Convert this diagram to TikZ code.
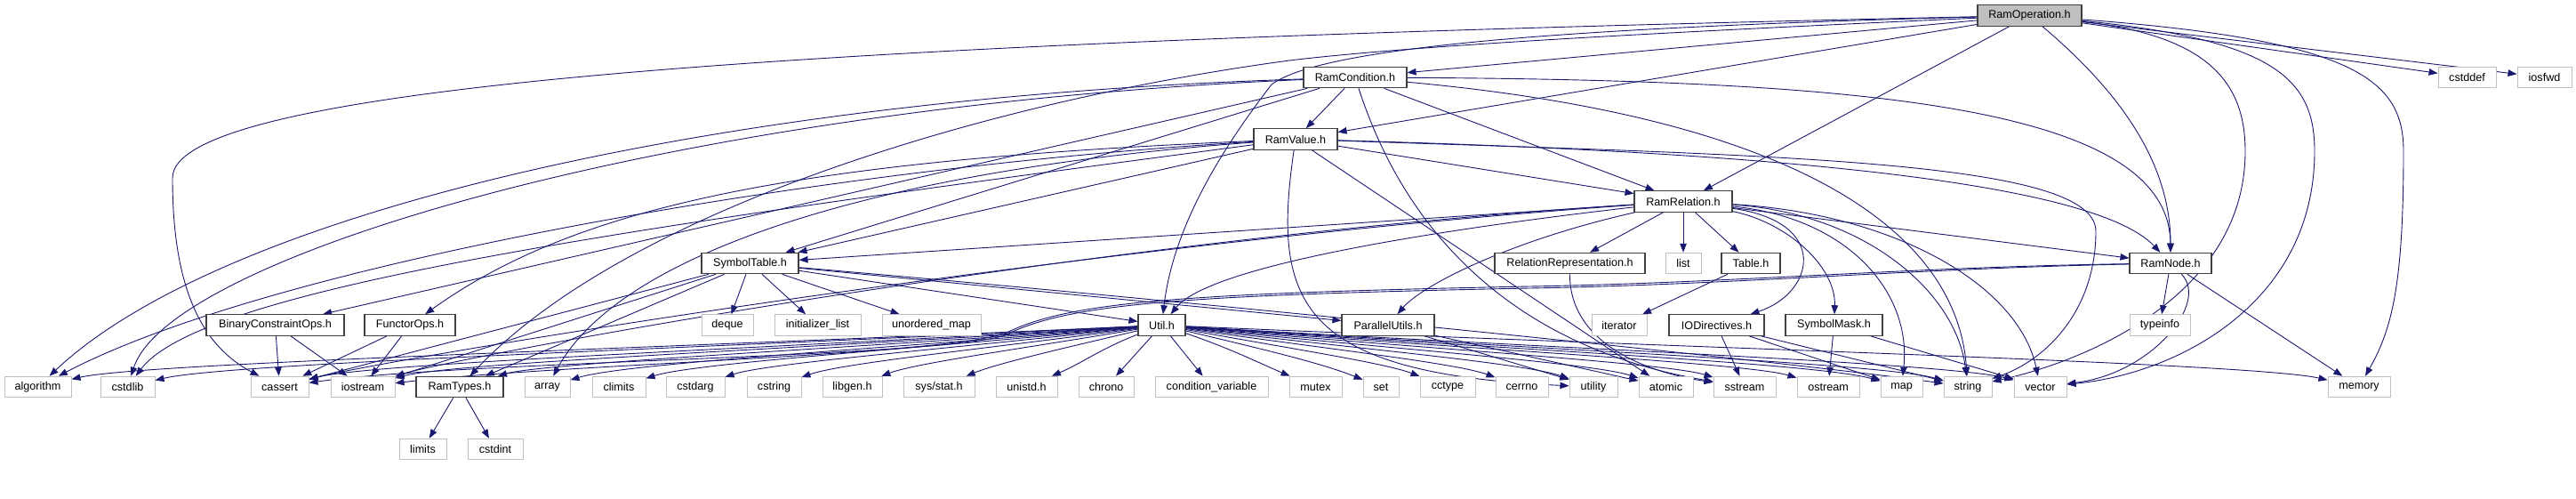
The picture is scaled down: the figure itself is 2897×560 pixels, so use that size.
\documentclass[tikz,border=0pt]{standalone}
\usepackage{fontspec}
\setmainfont{Liberation Sans}
\usetikzlibrary{arrows.meta}
\pgfdeclarelayer{edges}
\pgfsetlayers{edges,main}
\definecolor{edgec}{RGB}{25,25,112}
\definecolor{sysb}{RGB}{191,191,191}
\definecolor{locb}{RGB}{64,64,64}
\begin{document}
\begin{tikzpicture}[x=1pt,y=-1pt,
  hbox/.style={rectangle, minimum height=23.5pt, inner sep=0pt, fill=white, font=\fontsize{12.6}{14}\selectfont},
  loc/.style={hbox, draw=locb, line width=1.1pt},
  sys/.style={hbox, draw=sysb, line width=1pt},
  dep/.style={draw=edgec, line width=0.9pt, -{Triangle[length=10pt,width=7.5pt]}}]
\useasboundingbox (0,0) rectangle (2897,560);
% row 1
\node[loc, fill=sysb, minimum width=117pt] (op) at (2282.5,17.5) {RamOperation.h};
% row 2
\node[loc, minimum width=116pt] (cond) at (1524,87) {RamCondition.h};
\node[sys, minimum width=65pt] (cstddef) at (2774.5,87) {cstddef};
\node[sys, minimum width=61pt] (iosfwd) at (2861.5,87) {iosfwd};
% row 3
\node[loc, minimum width=94pt] (val) at (1457,156.5) {RamValue.h};
% row 4
\node[loc, minimum width=110pt] (rel) at (1893,226.5) {RamRelation.h};
% row 5
\node[loc, minimum width=109pt] (symtab) at (843.5,296) {SymbolTable.h};
\node[loc, minimum width=169pt] (relrep) at (1765.5,296) {RelationRepresentation.h};
\node[sys, minimum width=40pt] (list) at (1893,296) {list};
\node[loc, minimum width=66pt] (table) at (1969,296) {Table.h};
\node[loc, minimum width=92pt] (ramnode) at (2441,296) {RamNode.h};
% row 6
\node[loc, minimum width=155pt] (bco) at (309.5,365.5) {BinaryConstraintOps.h};
\node[loc, minimum width=102pt] (functor) at (461,365.5) {FunctorOps.h};
\node[sys, minimum width=58pt] (deque) at (818,365.5) {deque};
\node[sys, minimum width=97pt] (initlist) at (919.5,365.5) {initializer\_list};
\node[sys, minimum width=111pt] (umap) at (1047.5,365.5) {unordered\_map};
\node[loc, minimum width=53pt] (util) at (1306.5,365.5) {Util.h};
\node[loc, minimum width=104pt] (parallel) at (1561,365.5) {ParallelUtils.h};
\node[sys, minimum width=62pt] (iterator) at (1821,365.5) {iterator};
\node[loc, minimum width=107pt] (iodir) at (1930.5,365.5) {IODirectives.h};
\node[loc, minimum width=109pt] (symmask) at (2062.5,365.5) {SymbolMask.h};
\node[sys, minimum width=68pt] (typeinfo) at (2429,365.5) {typeinfo};
% row 7
\node[sys, minimum width=75pt] (algorithm) at (42.5,435) {algorithm};
\node[sys, minimum width=61pt] (cstdlib) at (143.5,435) {cstdlib};
\node[sys, minimum width=65pt] (cassert) at (314.5,435) {cassert};
\node[sys, minimum width=72pt] (iostream) at (408,435) {iostream};
\node[loc, minimum width=98pt] (types) at (517,435) {RamTypes.h};
\node[sys, minimum width=51pt] (array) at (615.5,435) {array};
\node[sys, minimum width=60pt] (climits) at (696,435) {climits};
\node[sys, minimum width=66pt] (cstdarg) at (782,435) {cstdarg};
\node[sys, minimum width=61pt] (cstring) at (870.5,435) {cstring};
\node[sys, minimum width=67pt] (libgen) at (958.5,435) {libgen.h};
\node[sys, minimum width=80pt] (sysstat) at (1056,435) {sys/stat.h};
\node[sys, minimum width=69pt] (unistd) at (1154.5,435) {unistd.h};
\node[sys, minimum width=62pt] (chrono) at (1244,435) {chrono};
\node[sys, minimum width=127pt] (condvar) at (1362.5,435) {condition\_variable};
\node[sys, minimum width=59pt] (mutex) at (1479.5,435) {mutex};
\node[sys, minimum width=40pt] (set) at (1553,435) {set};
\node[sys, minimum width=62pt] (cctype) at (1628,435) {cctype};
\node[sys, minimum width=59pt] (cerrno) at (1711.5,435) {cerrno};
\node[sys, minimum width=54pt] (utility) at (1792,435) {utility};
\node[sys, minimum width=61pt] (atomic) at (1873.5,435) {atomic};
\node[sys, minimum width=70pt] (sstream) at (1962,435) {sstream};
\node[sys, minimum width=70pt] (ostream) at (2056,435) {ostream};
\node[sys, minimum width=47pt] (map) at (2138.5,435) {map};
\node[sys, minimum width=54pt] (string) at (2213,435) {string};
\node[sys, minimum width=59pt] (vector) at (2294.5,435) {vector};
\node[sys, minimum width=70pt] (memory) at (2653,435) {memory};
% row 8
\node[sys, minimum width=53pt] (limits) at (475.5,505) {limits};
\node[sys, minimum width=62pt] (cstdint) at (557,505) {cstdint};

\begin{pgfonlayer}{edges}
% straight connectors
\foreach \a/\b in {op/cond, op/val, op/rel, op/cstddef, op/iosfwd,
  cond/val, cond/rel, cond/symtab, cond/bco,
  val/rel, val/symtab, val/atomic,
  rel/symtab, rel/relrep, rel/list, rel/table, rel/ramnode,
  symtab/deque, symtab/initlist, symtab/umap, symtab/util, symtab/parallel,
  symtab/types, symtab/iostream, symtab/cassert,
  bco/cassert, bco/iostream, functor/cassert, functor/iostream,
  table/iterator, ramnode/typeinfo, ramnode/memory,
  iodir/sstream, iodir/map, iodir/string, symmask/ostream, symmask/vector,
  types/limits, types/cstdint, parallel/atomic, parallel/utility,
  util/chrono, util/condvar}
  \draw[dep] (\a) -- (\b);
% Util.h fan-out to the left
\foreach \t/\p/\q in {algorithm/737.7/160.7, cstdlib/783/256.6, cassert/860/419,
  iostream/902/508, types/951.2/611.5, array/995.5/705, climits/1031.8/781.5,
  cstdarg/1070.5/863.2, cstring/1110.3/947.3, libgen/1149.9/1030.9,
  sysstat/1193.8/1123.5, unistd/1238/1217.1}
  \draw[dep] (util) .. controls (\p,392) and (\q,408) .. (\t);
% Util.h fan-out to the right
\foreach \t/\p/\q in {mutex/1384.4/1415.8, set/1417.4/1485.7, cctype/1451.2/1557,
  cerrno/1488.8/1636.5, utility/1525/1712.7, atomic/1561.7/1790,
  sstream/1601.5/1874, ostream/1643.8/1963.5, map/1680.9/2042,
  string/1714.4/2112.7, vector/1751.1/2190, memory/1912.4/2530.7}
  \draw[dep] (util) .. controls (\p,392) and (\q,408) .. (\t);
% RamOperation.h
\draw[dep] (op) .. controls (2380,100) and (2441,180) .. (ramnode);
\draw[dep] (op) .. controls (1900,35) and (1600,50) .. (1450,68) .. controls (1100,115) and (700,240) .. (types);
\draw[dep] (op) .. controls (1800,30) and (1490,50) .. (1430,95) .. controls (1380,160) and (1320,250) .. (util);
\draw[dep] (op) .. controls (1000,45) and (194,90) .. (194,200) .. controls (194,330) and (230,390) .. (cassert);
\draw[dep] (op) .. controls (2650,45) and (2703,90) .. (2703,170) .. controls (2703,320) and (2690,370) .. (memory);
\draw[dep] (op) .. controls (2560,45) and (2603,90) .. (2603,170) .. controls (2603,340) and (2450,420) .. (vector);
\draw[dep] (op) .. controls (2480,40) and (2525,90) .. (2525,170) .. controls (2525,330) and (2350,405) .. (string);
% RamCondition.h
\draw[dep] (cond) .. controls (2100,90) and (2440,120) .. (ramnode);
\draw[dep] (cond) .. controls (2000,130) and (2200,250) .. (string);
\draw[dep] (cond) .. controls (800,110) and (250,240) .. (algorithm);
\draw[dep] (cond) .. controls (750,120) and (190,290) .. (cstdlib);
\draw[dep] (cond) .. controls (1580,260) and (1700,390) .. (sstream);
% RamValue.h
\draw[dep] (val) .. controls (900,190) and (300,300) .. (algorithm);
\draw[dep] (val) .. controls (750,250) and (230,320) .. (cstdlib);
\draw[dep] (val) .. controls (900,180) and (650,230) .. (functor);
\draw[dep] (val) .. controls (1000,190) and (700,280) .. (array);
\draw[dep] (val) .. controls (1430,340) and (1460,420) .. (utility);
\draw[dep] (val) .. controls (1950,170) and (2350,200) .. (ramnode);
\draw[dep] (val) .. controls (2000,175) and (2357,180) .. (2357,260) .. controls (2357,350) and (2300,405) .. (string);
% RamRelation.h
\draw[dep] (rel) .. controls (1600,260) and (1360,300) .. (util);
\draw[dep] (rel) .. controls (1700,270) and (1600,320) .. (parallel);
\draw[dep] (rel) .. controls (2060,250) and (2040,330) .. (iodir);
\draw[dep] (rel) .. controls (2010,250) and (2065,300) .. (symmask);
\draw[dep] (rel) .. controls (2080,245) and (2150,330) .. (map);
\draw[dep] (rel) .. controls (2100,240) and (2200,330) .. (string);
\draw[dep] (rel) .. controls (2130,240) and (2270,320) .. (vector);
\draw[dep] (rel) .. controls (1200,270) and (500,405) .. (iostream);
\draw[dep] (rel) .. controls (1200,275) and (430,405) .. (cassert);
% SymbolTable.h
\draw[dep] (symtab) .. controls (1300,335) and (2000,405) .. (string);
% RelationRepresentation.h
\draw[dep] (relrep) .. controls (1765,390) and (1860,420) .. (sstream);
% RamNode.h
\draw[dep] (ramnode) .. controls (2485,340) and (2420,420) .. (vector);
\draw[dep] (ramnode) .. controls (2150,300) and (1950,318) .. (1720,322) .. controls (1320,330) and (1200,340) .. (1130,375) .. controls (1050,400) and (620,410) .. (iostream);
\draw[dep] (ramnode) .. controls (2150,302) and (1950,320) .. (1720,324) .. controls (1320,332) and (1200,342) .. (1130,377) .. controls (1050,402) and (520,406) .. (cassert);
\end{pgfonlayer}
\end{tikzpicture}
\end{document}
